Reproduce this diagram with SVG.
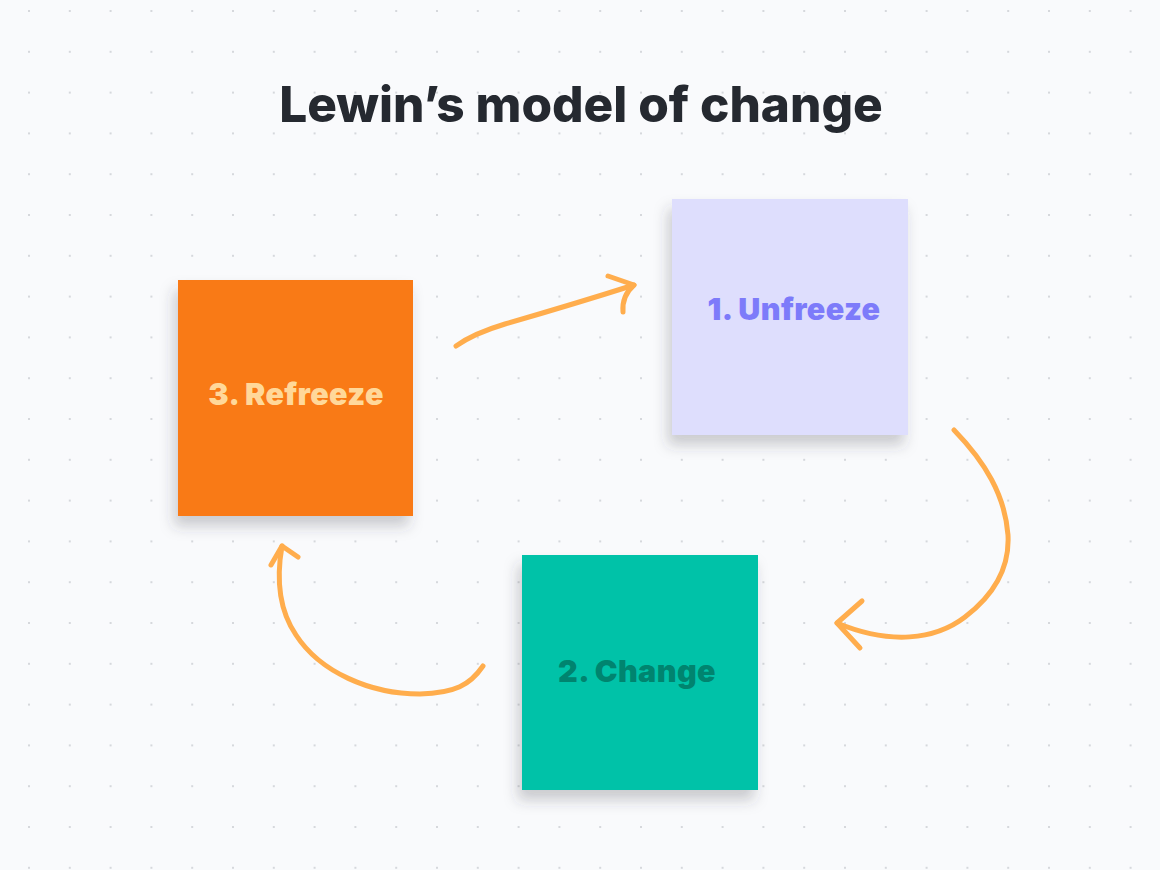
<svg xmlns="http://www.w3.org/2000/svg" width="1160" height="870" viewBox="0 0 1160 870">
  <defs>
    <pattern id="dots" x="29" y="11" width="40.8" height="40.8" patternUnits="userSpaceOnUse">
      <circle cx="0" cy="0" r="1" fill="#CACCD2"/>
      <circle cx="40.8" cy="0" r="1" fill="#CACCD2"/>
      <circle cx="0" cy="40.8" r="1" fill="#CACCD2"/>
      <circle cx="40.8" cy="40.8" r="1" fill="#CACCD2"/>
    </pattern>
    <filter id="shadow" x="-20%" y="-20%" width="140%" height="140%">
      <feDropShadow dx="-4" dy="10" stdDeviation="7" flood-color="#3A3F4A" flood-opacity="0.25"/>
    </filter>
    <style>
      .title { font-family: Inter, "Liberation Sans", sans-serif; font-weight: 800; font-size: 49.5px; fill: #252930; }
      .label { font-family: Inter, "Liberation Sans", sans-serif; font-weight: 900; font-size: 30.5px; letter-spacing: 0.4px; }
      .arrow { fill: none; stroke: #FFAD4D; stroke-width: 5; stroke-linecap: round; stroke-linejoin: round; }
    </style>
  </defs>
  <rect width="1160" height="870" fill="#F9FAFC"/>
  <rect width="1160" height="870" fill="url(#dots)"/>

  <text class="title" x="581" y="122" text-anchor="middle">Lewin’s model of change</text>

  <g id="node-unfreeze">
    <rect x="672" y="199" width="236" height="236" fill="#DEDEFD" filter="url(#shadow)"/>
    <text class="label" x="794" y="319.5" text-anchor="middle" fill="#7D7BFA">1. Unfreeze</text>
  </g>
  <g id="node-refreeze">
    <rect x="178" y="280" width="235" height="236" fill="#F97A12" filter="url(#shadow)"/>
    <text class="label" x="296" y="404.5" text-anchor="middle" fill="#FFD89A">3. Refreeze</text>
  </g>
  <g id="node-change">
    <rect x="522" y="555" width="236" height="235" fill="#00C2A8" filter="url(#shadow)"/>
    <text class="label" x="637" y="682" text-anchor="middle" fill="#00846F">2. Change</text>
  </g>

  <g id="connectors">
    <path class="arrow" d="M456,346 C470,336 485,330 505,324 C550,311 590,299 634,285"/>
    <path class="arrow" d="M608,276 L634,285 C626,292 622,300 623,312"/>
    <path class="arrow" d="M954,430 C985,462 1005,495 1008,535 C1010,572 990,598 965,617 C935,640 890,645 837,623"/>
    <path class="arrow" d="M862,601 L837,623 L860,648"/>
    <path class="arrow" d="M483,666 C470,685 455,693 420,694 C370,694 320,672 296,635 C279,610 276,580 282,546"/>
    <path class="arrow" d="M271,565 L282,546 L298,557"/>
  </g>
</svg>
